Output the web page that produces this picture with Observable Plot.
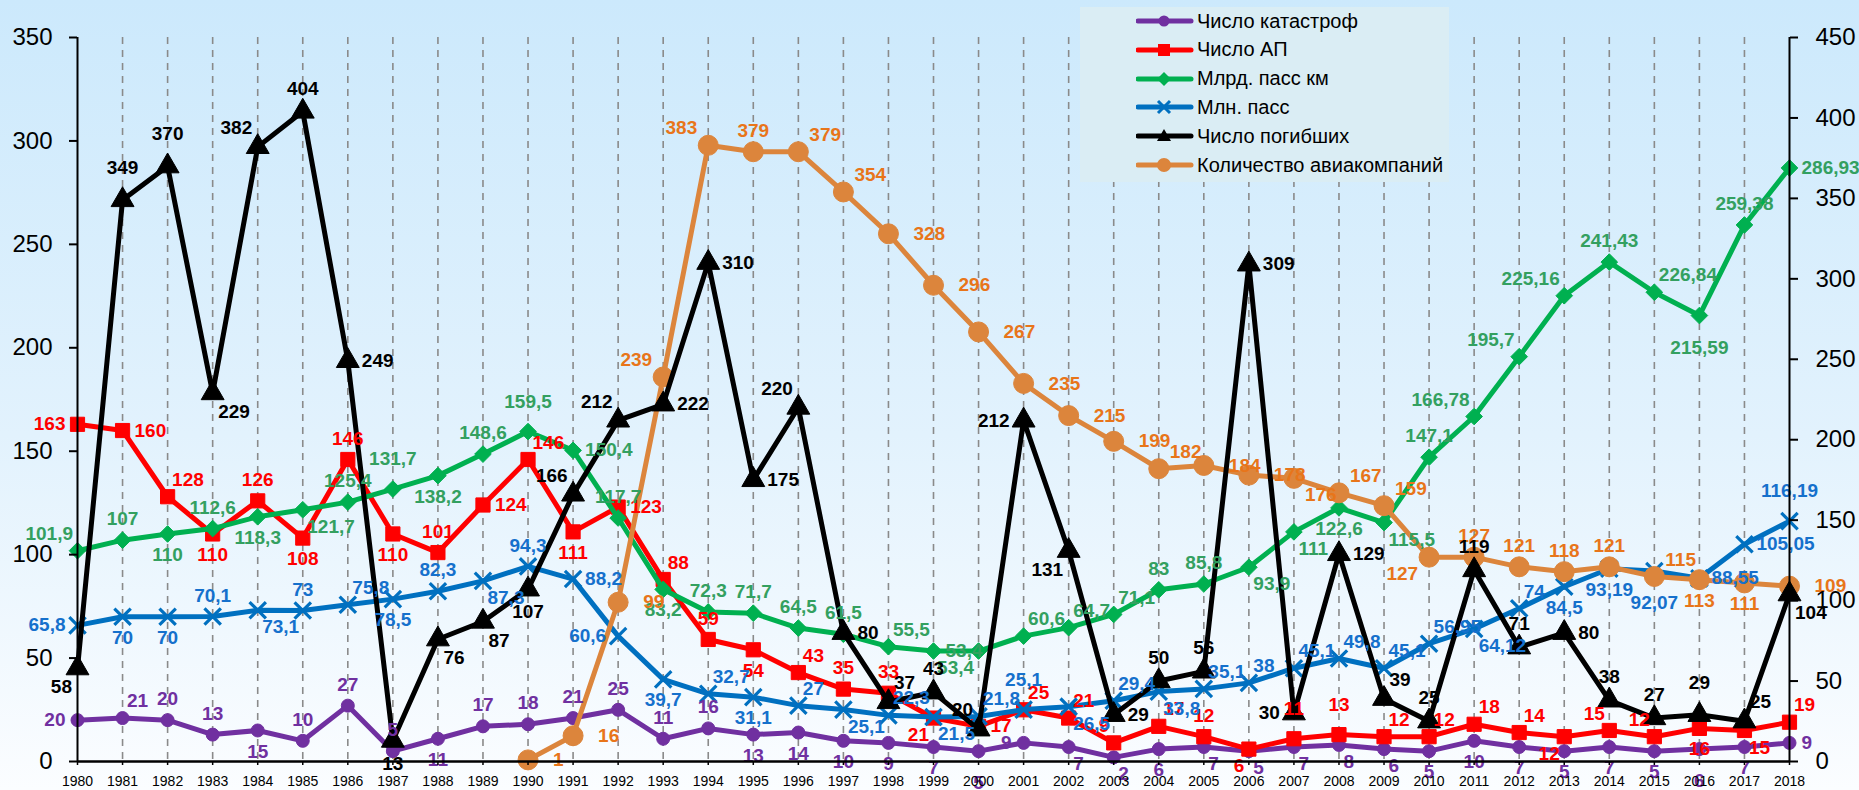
<!DOCTYPE html>
<html>
<head>
<meta charset="utf-8">
<script src="https://cdn.jsdelivr.net/npm/d3@7"></script>
<script src="https://cdn.jsdelivr.net/npm/@observablehq/plot@0.6"></script>
<style>
html,body{margin:0;padding:0;}
body{width:1859px;height:790px;overflow:hidden;background:linear-gradient(to bottom,#cce9fc 0%,#e2f2fd 55%,#fbfdff 100%);font-family:"Liberation Sans",Arial,sans-serif;}
#wrap{position:relative;width:1859px;height:790px;}
#chart svg{display:block;}
#legend{position:absolute;left:1080px;top:7px;width:369px;height:175px;background:#daedf4;}
.item{position:absolute;left:56px;height:28px;display:flex;align-items:center;font-size:20px;color:#000;white-space:nowrap;}
.item svg{margin-right:3px;}
</style>
</head>
<body>
<div id="wrap"><div id="chart"></div><div id="legend"></div></div>
<script>
// ---- data ----
const years = d3.range(1980, 2019);
const crashes = [20,21,20,13,15,10,27,5,11,17,18,21,25,11,16,13,14,10,9,7,5,9,7,2,6,7,5,7,8,6,5,10,7,5,7,5,6,7,9];
const accidents = [163,160,128,110,126,108,146,110,101,124,146,111,123,88,59,54,43,35,33,21,17,25,21,9,17,12,6,11,13,12,12,18,14,12,15,12,16,15,19];
const passKm = [101.9,107,110,112.6,118.3,121.7,125.4,131.7,138.2,148.6,159.5,150.4,117.7,83.2,72.3,71.7,64.5,61.5,55.5,53.4,53.4,60.6,64.7,71.1,83,85.8,93.9,111,122.6,115.5,147.1,166.78,195.7,225.16,241.43,226.84,215.59,259.38,286.93];
const passengers = [65.8,70,70,70.1,73.1,73,75.8,78.5,82.3,87.3,94.3,88.2,60.6,39.7,32.7,31.1,27,25.1,22.3,21.5,21.8,25.1,26.5,29.4,33.8,35.1,38,45.1,49.8,45.1,56.95,64.12,74,84.5,93.19,92.07,88.55,105.05,116.19];
const deaths = [58,349,370,229,382,404,249,13,76,87,107,166,212,222,310,175,220,80,37,43,20,212,131,29,50,56,309,30,129,39,25,119,71,80,38,27,29,25,104];
const airlines = [null,null,null,null,null,null,null,null,null,null,1,16,99,239,383,379,379,354,328,296,267,235,215,199,182,184,178,176,167,159,127,127,121,118,121,115,113,111,109];
const leftTicks = [0,50,100,150,200,250,300,350];
const rightTicks = [0,50,100,150,200,250,300,350,400,450];
const seriesNames = ["Число катастроф","Число АП","Млрд. пасс км","Млн. пасс","Число погибших","Количество авиакомпаний"];

// ---- label placement (t/b/l/r and diagonals) ----
const crashesPos = "l tr t t b t t t b t t t t t t b b b b b bb l br br b br br br br br b b b b b b bb b r".split(" ");
const accidentsPos = "l r tr b t b t b t r tr b r tr t b tr t t bl r tr tr tl tr t bl tt tt tr tr tr tr bl tl tl b br tr".split(" ");
const passKmPos = "tl t b t b br t tt b t tt r t b t t t t tr r bl tr tr tr t t br br b br t tl tl tl t tr bb t r".split(" ");
const passengersPos = "l b b t br t tr b t br t r l b tr b tr br tr br tr tt br tr br tr tr tr tr tr tr br tr b b bb r r tt".split(" ");
const deathsPos = "bl tt tt br tl t r b br br b tl tl r r r tl r tr t tl l bl r t t r l r tr t t t r t t tt tr br".split(" ");
const airlinesPos = "- - - - - - - - - - r r r tl tl t tr tr r r r r r r tr r r br tr tr bl t t t t tr b b r".split(" ");

const K = 350 / 450; // right axis -> left axis units

const series = [
  {values: crashes, pos: crashesPos, color: "#7030a0", label: "#7030a0", symbol: "circle", r: 6.5, right: false, gx: 9, gy: 9},
  {values: accidents, pos: accidentsPos, color: "#ff0000", label: "#ff0000", symbol: "square", r: 8, right: false, gx: 9, gy: 9},
  {values: passKm, pos: passKmPos, color: "#00b050", label: "#33a060", symbol: "diamond2", r: 7.5, right: false, gx: 9, gy: 9},
  {values: passengers, pos: passengersPos, color: "#0070c0", label: "#1570cc", symbol: "times", r: 7.5, right: false, gx: 9, gy: 9},
  {values: airlines, pos: airlinesPos, color: "#dc853c", label: "#e8751a", symbol: "circle", r: 10, right: true, gx: 22, gy: 9},
  {values: deaths, pos: deathsPos, color: "#000000", label: "#000000", symbol: "triangle", r: 8.5, right: true, gx: 11, gy: 11}
];

function off(code, gx, gy) {
  switch (code) {
    case "t": return [0, -(gy + 12), "middle"];
    case "tt": return [0, -(gy + 21), "middle"];
    case "b": return [0, gy + 12, "middle"];
    case "bb": return [0, gy + 23, "middle"];
    case "l": return [-(gx + 3), 0, "end"];
    case "r": return [gx + 3, 0, "start"];
    case "tr": return [gx * 0.5, -(gy + 8), "start"];
    case "tl": return [-gx * 0.5, -(gy + 8), "end"];
    case "br": return [gx * 0.5, gy + 8, "start"];
    case "bl": return [-gx * 0.5, gy + 8, "end"];
  }
  return [0, 0, "middle"];
}
const fmt = v => String(v).replace(".", ",");

const lineMarks = [];
const labelMarks = [];
for (const s of series) {
  const data = years.map((yr, i) => ({year: yr, v: s.values[i], pos: s.pos[i], y: s.values[i] == null ? null : (s.right ? s.values[i] * K : s.values[i])}))
    .filter(d => d.v != null);
  lineMarks.push(Plot.line(data, {x: "year", y: "y", stroke: s.color, strokeWidth: 5, strokeLinejoin: "round", strokeLinecap: "round"}));
  if (s.symbol === "times") {
    lineMarks.push(Plot.dot(data, {x: "year", y: "y", symbol: "times", r: s.r, stroke: s.color, strokeWidth: 3.2, fill: "none"}));
  } else {
    lineMarks.push(Plot.dot(data, {x: "year", y: "y", symbol: s.symbol, r: s.r, fill: s.color, stroke: s.color, strokeWidth: 1}));
  }
  const codes = Array.from(new Set(data.map(d => d.pos)));
  for (const c of codes) {
    const [dx, dy, anchor] = off(c, s.gx, s.gy);
    labelMarks.push(Plot.text(data.filter(d => d.pos === c), {
      x: "year", y: "y", text: d => fmt(d.v), dx, dy, textAnchor: anchor,
      fill: s.label, fontSize: 19, fontWeight: "bold"
    }));
  }
}

const chart = Plot.plot({
  width: 1859, height: 790,
  marginTop: 37, marginBottom: 29, marginLeft: 77, marginRight: 70,
  x: {domain: [1980, 2018], label: null},
  y: {domain: [0, 350], label: null},
  style: {background: "transparent", fontFamily: "'Liberation Sans', Arial, sans-serif", overflow: "visible"},
  marks: [
    Plot.ruleX(years.slice(1, -1), {y1: 350, y2: 0, stroke: "#8a8a8a", strokeWidth: 1.6, strokeDasharray: "7,6"}),
    ...lineMarks,
    ...labelMarks,
    Plot.ruleX([1980, 2018], {y1: 0, y2: 350, stroke: "#000", strokeWidth: 2}),
    Plot.ruleY([0], {stroke: "#000", strokeWidth: 2.5}),
    Plot.axisX(years, {label: null, tickSize: 4, tickPadding: 11, fontSize: 14, tickFormat: d => String(d), stroke: "#000", strokeWidth: 1.5, fill: "#000"}),
    Plot.axisY(leftTicks, {label: null, anchor: "left", tickSize: 8, tickPadding: 17, fontSize: 24, tickFormat: d => String(d), stroke: "#000", strokeWidth: 2, fill: "#000"}),
    Plot.axisY(rightTicks.map(v => v * K), {label: null, anchor: "right", tickSize: 8, tickPadding: 18, fontSize: 24, tickFormat: d => String(Math.round(d / K)), stroke: "#000", strokeWidth: 2, fill: "#000"})
  ]
});
document.getElementById("chart").appendChild(chart);

// ---- legend ----
const sw = [
  `<circle cx="28" cy="10" r="5.5" fill="#7030a0"/>`,
  `<rect x="22" y="4" width="12" height="12" fill="#ff0000"/>`,
  `<polygon points="28,3 35,10 28,17 21,10" fill="#00b050"/>`,
  `<path d="M22,4L34,16M34,4L22,16" stroke="#0070c0" stroke-width="3"/>`,
  `<polygon points="28,3 35,15 21,15" fill="#000"/>`,
  `<circle cx="28" cy="10" r="7" fill="#dc853c"/>`
];
const lc = ["#7030a0","#ff0000","#00b050","#0070c0","#000000","#dc853c"];
const leg = document.getElementById("legend");
seriesNames.forEach((n, i) => {
  const d = document.createElement("div");
  d.className = "item";
  d.style.top = (i * 28.8) + "px";
  d.innerHTML = `<svg width="58" height="20"><line x1="2" y1="10" x2="55" y2="10" stroke="${lc[i]}" stroke-width="5" stroke-linecap="round"/>${sw[i]}</svg><span>${n}</span>`;
  leg.appendChild(d);
});
</script>
</body>
</html>
